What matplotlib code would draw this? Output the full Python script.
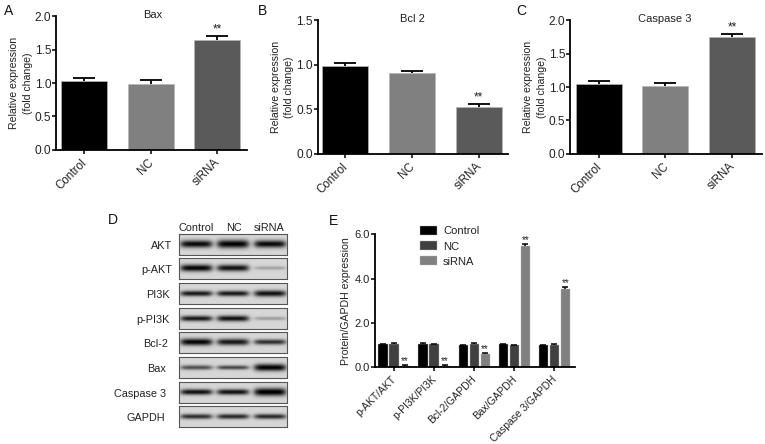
import numpy as np
import matplotlib
matplotlib.use("Agg")
import matplotlib.pyplot as plt
from matplotlib.patches import Patch
from matplotlib.transforms import ScaledTranslation

plt.rcParams['font.family'] = ['Liberation Sans', 'DejaVu Sans']
W, H = 765, 444

groups = ['Control', 'NC', 'siRNA']
bar_colors = ['#000000', '#808080', '#5a5a5a']
bax_values = [1.03, 0.98, 1.65]
bax_errors = [0.05, 0.06, 0.05]
bcl2_values = [0.99, 0.91, 0.52]
bcl2_errors = [0.03, 0.02, 0.04]
casp3_values = [1.04, 1.01, 1.75]
casp3_errors = [0.05, 0.05, 0.04]

e_categories = ['p-AKT/AKT', 'p-PI3K/PI3K', 'Bcl-2/GAPDH', 'Bax/GAPDH', 'Caspase 3/GAPDH']
e_control = [1.03, 1.05, 1.00, 1.03, 1.00]
e_nc = [1.06, 1.03, 1.06, 1.00, 1.00]
e_sirna = [0.08, 0.07, 0.58, 5.45, 3.52]
e_control_err = [0.03, 0.03, 0.02, 0.03, 0.02]
e_nc_err = [0.03, 0.03, 0.03, 0.02, 0.03]
e_sirna_err = [0.03, 0.03, 0.06, 0.12, 0.10]
e_colors = ['#000000', '#404040', '#808080']

blot_labels = ['AKT', 'p-AKT', 'PI3K', 'p-PI3K', 'Bcl-2', 'Bax', 'Caspase 3', 'GAPDH']
blot_label_right = [172, 172, 169.5, 169.5, 168.5, 166, 166, 165]
blot_strength = [[0.88, 0.92, 0.88], [0.90, 0.85, 0.22], [0.82, 0.82, 0.85],
                 [0.82, 0.85, 0.25], [0.90, 0.82, 0.72], [0.58, 0.62, 0.92],
                 [0.85, 0.85, 0.95], [0.72, 0.75, 0.75]]
blot_thickness = [[3.6, 4.0, 3.6], [3.4, 3.2, 1.8], [2.8, 2.8, 3.2],
                  [2.8, 3.0, 1.8], [3.4, 3.2, 2.6], [2.4, 2.2, 3.6],
                  [2.8, 2.8, 3.8], [2.6, 2.6, 2.6]]

fig = plt.figure(figsize=(W / 100, H / 100), dpi=100)


def px_axes(left, top, right, bottom):
    return fig.add_axes([left / W, 1 - bottom / H, (right - left) / W, (bottom - top) / H])


def ftext(x, y, s, **kw):
    fig.text(x / W, 1 - y / H, s, **kw)


def style(ax, tick_size):
    ax.spines['top'].set_visible(False)
    ax.spines['right'].set_visible(False)
    ax.spines['left'].set_linewidth(1.3)
    ax.spines['bottom'].set_linewidth(1.3)
    ax.tick_params(width=1.2, length=3, labelsize=tick_size, color='#111111',
                   labelcolor='#222222', pad=0.5)


def shift_xlabels(ax, dx_px):
    offset = ScaledTranslation(dx_px / 100, 0, fig.dpi_scale_trans)
    for lab in ax.get_xticklabels():
        lab.set_transform(lab.get_transform() + offset)


def upper_error(ax, x, values, errors, cap, lw):
    _, caps, _ = ax.errorbar(x, values, yerr=[np.zeros(len(x)), errors], fmt='none',
                             ecolor='black', elinewidth=lw, capsize=cap, capthick=lw)
    caps[0].set_visible(False)


def bar_panel(box, first_centre, spacing, values, errors, ymax, title, title_y, star_i):
    left, top, right, bottom = box
    ax = px_axes(left, top, right, bottom)
    x = np.arange(3)
    ax.bar(x, values, width=46 / spacing, color=bar_colors, edgecolor='#b5b5b5', linewidth=0.5)
    upper_error(ax, x, values, errors, 8, 1.3)
    ax.set_xlim((left - first_centre) / spacing, (right - first_centre) / spacing)
    ax.set_ylim(0, ymax)
    ax.set_yticks(np.arange(0, ymax + 0.01, 0.5))
    ax.set_yticklabels([f'{v:.1f}' for v in np.arange(0, ymax + 0.01, 0.5)])
    ax.set_xticks(x)
    ax.set_xticklabels(groups, rotation=45, ha='right', rotation_mode='anchor')
    style(ax, 8.6)
    ax.tick_params(axis='x', labelsize=8.4, pad=2)
    shift_xlabels(ax, -3)
    ax.set_ylabel('Relative expression\n(fold change)', fontsize=7.6, color='#222222',
                  linespacing=1.45, labelpad=1.5)
    ftext((left + right) / 2 + title[1], title_y, title[0], fontsize=8, ha='center', va='center',
          color='#222222')
    ax.text(star_i, values[star_i] + errors[star_i] + ymax * 0.005, '**', fontsize=8.5,
            ha='center', va='bottom', color='#222222')
    return ax


bar_panel((56, 16.3, 246.7, 149.7), 84, 66.5, bax_values, bax_errors, 2.0, ('Bax', 1), 15, 2)
bar_panel((317.7, 20.3, 508, 153.7), 345, 66.8, bcl2_values, bcl2_errors, 1.5, ('Bcl 2', 0), 19, 2)
bar_panel((570, 20.3, 762, 153.7), 598.7, 66.7, casp3_values, casp3_errors, 2.0, ('Caspase 3', -1), 19, 2)

# Panel E
eleft, etop, eright, ebottom = 375, 234.3, 575, 367.3
axe = px_axes(eleft, etop, eright, ebottom)
gs = 40.1
xe = np.arange(5)
bw = 9.4 / gs
off = 11 / gs
series = [(e_control, e_control_err), (e_nc, e_nc_err), (e_sirna, e_sirna_err)]
for i, (vals, errs) in enumerate(series):
    pos = xe + (i - 1) * off
    axe.bar(pos, vals, width=bw, color=e_colors[i], edgecolor='#b5b5b5', linewidth=0.3)
    upper_error(axe, pos, vals, errs, 2, 1.1)
for p, v, er in zip(xe + off, e_sirna, e_sirna_err):
    axe.text(p, v + er - 0.04, '**', fontsize=7, ha='center', va='bottom', color='#222222')
axe.set_xlim((eleft - 394) / gs, (eright - 394) / gs)
axe.set_ylim(0, 6)
axe.set_yticks([0, 2, 4, 6])
axe.set_yticklabels(['0.0', '2.0', '4.0', '6.0'])
axe.set_xticks(xe)
axe.set_xticklabels(e_categories, rotation=45, ha='right', rotation_mode='anchor')
style(axe, 8)
axe.tick_params(axis='x', labelsize=7.4, pad=2)
shift_xlabels(axe, -3)
axe.set_ylabel('Protein/GAPDH expression', fontsize=7.6, color='#222222', labelpad=2.5)
handles = [Patch(facecolor=c, edgecolor='#b5b5b5', linewidth=0.3) for c in e_colors]
fig.legend(handles, groups, loc='upper left', bbox_to_anchor=(417.5 / W, 1 - 224 / H), frameon=False,
           fontsize=8, handlelength=1.55, handleheight=0.85, handletextpad=0.55, labelspacing=0.43,
           borderpad=0.2, borderaxespad=0, labelcolor='#222222')

# Panel D: blot strips
lane_x = np.array([0.16, 0.50, 0.845])
for k, name in enumerate(blot_labels):
    top = 205 + (86 + 74 * k) / 3
    ax = px_axes(179.3, top, 286.7, top + 21)
    cols = np.linspace(0, 1, 215)
    rows = np.linspace(-1, 1, 43)
    img = np.full((43, 215), 0.84)
    for cx, s, t in zip(lane_x, blot_strength[k], blot_thickness[k]):
        lane = np.exp(-((cols - cx) / 0.15) ** 6)
        band = np.exp(-(rows * 10.5 / t) ** 2)
        img -= 0.92 * s * np.outer(band, lane)
    ax.imshow(np.clip(img, 0, 1), cmap='gray', vmin=0, vmax=1, aspect='auto', interpolation='bilinear')
    ax.set_xticks([])
    ax.set_yticks([])
    for sp in ax.spines.values():
        sp.set_color('#555555')
        sp.set_linewidth(0.8)
    ftext(blot_label_right[k], top + 12, name, fontsize=7.8, ha='right', va='center', color='#222222')

for cx, g in zip([196, 233.5, 269.5], groups):
    ftext(cx, 227.5, g, fontsize=7.8, ha='center', va='center', color='#222222')

for s, x, y in [('A', 4, 11), ('B', 258, 11), ('C', 516, 11), ('D', 108, 220), ('E', 329, 221)]:
    ftext(x, y, s, fontsize=10, ha='left', va='center', color='#111111')

fig.savefig('out.png', dpi=100)
